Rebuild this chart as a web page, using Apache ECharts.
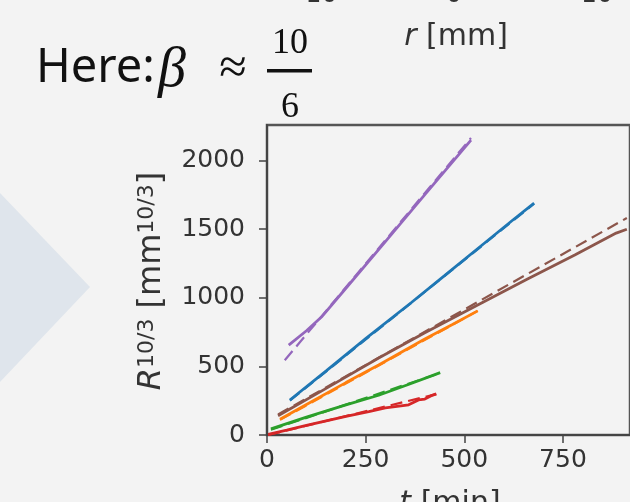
<!DOCTYPE html>
<html>
<head>
<meta charset="utf-8">
<script src="https://cdn.jsdelivr.net/npm/echarts@6/dist/echarts.min.js"></script>
<style>
html,body{margin:0;padding:0;background:#f3f3f3;}
#c{width:630px;height:502px;}
</style>
</head>
<body>
<div id="c"></div>
<script>
// ---- data (t [min], R^(10/3) [mm^(10/3)]) ----
const xTicks = [0, 250, 500, 750];
const yTicks = [0, 500, 1000, 1500, 2000];
const topTickLabels = ['−10', '0', '10'];

const blueData   = [[58,255],[150,468],[250,702],[366,966],[450,1162],[550,1396],[620,1560],[677,1690]];
const blueFit    = [[58,250],[677,1686]];
const orangeData = [[33,115],[100,222],[200,382],[283,510],[400,700],[470,805],[534,905]];
const orangeFit  = [[33,110],[534,905]];
const greenData  = [[10,45],[100,130],[200,220],[283,290],[360,370],[439,455]];
const greenFit   = [[10,38],[439,452]];
const redData    = [[3,5],[50,35],[100,70],[200,135],[258,170],[300,198],[359,220],[384,256],[400,262],[415,285],[429,300]];
const redFit     = [[3,0],[429,298]];
const purpleData = [[55,655],[100,760],[138,860],[200,1070],[300,1410],[400,1752],[517,2150]];
const purpleFit  = [[45,545],[517,2165]];
const brownData  = [[28,140],[150,340],[283,561],[400,745],[534,948],[659,1135],[780,1312],[885,1472],[912,1500]];
const brownFit   = [[28,150],[912,1582]];

const C = {blue:'#1f77b4', orange:'#ff7f0e', green:'#2ca02c', red:'#d62728', purple:'#9467bd', brown:'#8c564b'};

function solid(data, color){
  return {type:'line', data:data, showSymbol:false, symbol:'none', smooth:false,
          lineStyle:{color:color, width:2.8}, z:3, animation:false};
}
function dashed(data, color){
  return {type:'line', data:data, showSymbol:false, symbol:'none',
          lineStyle:{color:color, width:2.2, type:[12,6]}, z:4, animation:false};
}

const chart = echarts.init(document.getElementById('c'), null, {renderer:'canvas'});
const axisCol = '#444';
chart.setOption({
  backgroundColor:'#f3f3f3',
  animation:false,
  grid:{left:267, top:125, width:367, height:310, show:true, borderColor:'#555', borderWidth:2.5, backgroundColor:'transparent'},
  xAxis:{type:'value', min:0, max:920, interval:250,
    axisLine:{show:true, lineStyle:{color:axisCol, width:2}},
    axisTick:{show:true, length:8, lineStyle:{color:axisCol, width:1.5}, customValues:xTicks},
    axisLabel:{color:'#333', fontSize:25, fontFamily:'DejaVu Sans', margin:13, customValues:xTicks, formatter:function(v){return String(v);}},
    splitLine:{show:false}},
  yAxis:{type:'value', min:0, max:2260, interval:500,
    axisLine:{show:true, lineStyle:{color:axisCol, width:2}},
    axisTick:{show:true, length:8, lineStyle:{color:axisCol, width:1.5}, customValues:yTicks},
    axisLabel:{color:'#333', fontSize:25, fontFamily:'DejaVu Sans', margin:22, customValues:yTicks, formatter:function(v){return String(v);}},
    splitLine:{show:false}},
  graphic:[
    {type:'polygon', shape:{points:[[-20,172],[90,287],[-20,403]]}, style:{fill:'#dfe5ec'}, z:0},
    // partial top tick labels of the upper plot
    {type:'text', x:311, y:-5, style:{text:topTickLabels[0], fontSize:25, fontFamily:'DejaVu Sans', fill:'#333', align:'center', verticalAlign:'middle'}},
    {type:'text', x:454, y:-5, style:{text:topTickLabels[1], fontSize:25, fontFamily:'DejaVu Sans', fill:'#333', align:'center', verticalAlign:'middle'}},
    {type:'text', x:597, y:-5, style:{text:topTickLabels[2], fontSize:25, fontFamily:'DejaVu Sans', fill:'#333', align:'center', verticalAlign:'middle'}},
    {type:'text', x:456, y:37, style:{text:'{it|r} [mm]', rich:{it:{fontStyle:'italic', fontSize:30, fontFamily:'DejaVu Sans', fill:'#333'}}, fontSize:30, fontFamily:'DejaVu Sans', fill:'#333', align:'center', verticalAlign:'middle'}},
    // Here: beta ~ 10/6
    {type:'text', x:36, y:69, style:{text:'Here:', fontSize:47, fontFamily:'Noto Sans', fill:'#111', align:'left', verticalAlign:'middle'}},
    {type:'text', x:158, y:71, style:{text:'β', fontSize:56, fontStyle:'italic', fontFamily:'Liberation Serif', fill:'#111', align:'left', verticalAlign:'middle'}},
    {type:'text', x:233, y:70, style:{text:'≈', fontSize:50, fontFamily:'Liberation Serif', fill:'#111', align:'center', verticalAlign:'middle'}},
    {type:'text', x:290, y:44, style:{text:'10', fontSize:36, fontFamily:'Liberation Serif', fill:'#111', align:'center', verticalAlign:'middle'}},
    {type:'rect', shape:{x:267, y:69, width:45, height:3.5}, style:{fill:'#111'}},
    {type:'text', x:290, y:108, style:{text:'6', fontSize:36, fontFamily:'Liberation Serif', fill:'#111', align:'center', verticalAlign:'middle'}},
    // axis labels
    {type:'text', x:152, y:281, rotation:Math.PI/2, style:{
      text:'{it|R}{sup|10/3}{n| [mm}{sup|10/3}{n|]}',
      rich:{it:{fontStyle:'italic', fontSize:32, fontFamily:'DejaVu Sans', fill:'#333'},
            n:{fontSize:32, fontFamily:'DejaVu Sans', fill:'#333'},
            sup:{fontSize:22, fontFamily:'DejaVu Sans', fill:'#333', verticalAlign:'top'}},
      fontSize:32, fontFamily:'DejaVu Sans', fill:'#333', align:'center', verticalAlign:'middle'}},
    {type:'text', x:450, y:504, style:{text:'{it|t} [min]', rich:{it:{fontStyle:'italic', fontSize:30, fontFamily:'DejaVu Sans', fill:'#333'}}, fontSize:30, fontFamily:'DejaVu Sans', fill:'#333', align:'center', verticalAlign:'middle'}}
  ],
  series:[
    solid(blueData, C.blue), dashed(blueFit, C.blue),
    solid(orangeData, C.orange), dashed(orangeFit, C.orange),
    solid(greenData, C.green), dashed(greenFit, C.green),
    solid(redData, C.red), dashed(redFit, C.red),
    solid(purpleData, C.purple), dashed(purpleFit, C.purple),
    solid(brownData, C.brown), dashed(brownFit, C.brown)
  ]
});
</script>
</body>
</html>
